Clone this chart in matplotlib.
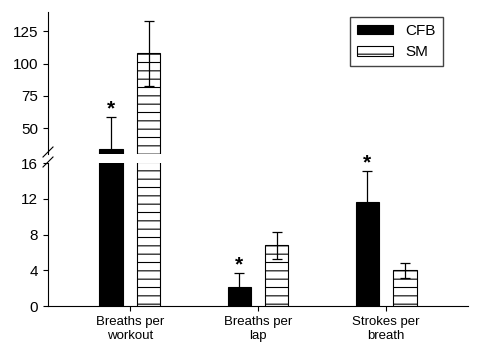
import matplotlib.pyplot as plt
import numpy as np

plt.rcParams['font.family'] = ['Liberation Sans', 'DejaVu Sans']
plt.rcParams['hatch.linewidth'] = 0.8
plt.rcParams['hatch.color'] = 'black'

categories = ['Breaths per\nworkout', 'Breaths per\nlap', 'Strokes per\nbreath']
cfb_mean = [34.0, 2.1, 11.6]
cfb_err = [24.5, 1.55, 3.45]
sm_mean = [108.0, 6.8, 4.0]
sm_err = [25.0, 1.5, 0.85]
signif = [True, True, True]

x = np.arange(len(categories))
w = 0.18
off = 0.148
W, H = 479, 353

fig = plt.figure(figsize=(W / 100, H / 100), dpi=100)
ax_top = fig.add_axes([48 / W, 1 - 154 / H, 420 / W, 142 / H])
ax_bot = fig.add_axes([48 / W, 1 - 306 / H, 420 / W, 143 / H])

for ax in (ax_top, ax_bot):
    ax.bar(x - off, cfb_mean, w, color='black', edgecolor='black', lw=0.8, label='CFB')
    ax.bar(x + off, sm_mean, w, color='white', edgecolor='black', lw=0.8,
           hatch='--', label='SM')
    ax.errorbar(x - off, cfb_mean, yerr=cfb_err, fmt='none', ecolor='black',
                elinewidth=0.9, capsize=3.5, capthick=0.9)
    ax.errorbar(x + off, sm_mean, yerr=sm_err, fmt='none', ecolor='black',
                elinewidth=0.9, capsize=3.5, capthick=0.9)
    ax.set_xlim(-0.64, 2.64)
    ax.spines['top'].set_visible(False)
    ax.spines['right'].set_visible(False)
    for s in ax.spines.values():
        s.set_linewidth(0.8)
    ax.tick_params(direction='out', length=3.5, width=0.8, labelsize=11)

ax_top.set_ylim(30, 140)
ax_top.set_yticks([50, 75, 100, 125])
ax_top.spines['bottom'].set_visible(False)
ax_top.set_xticks([])

ax_bot.set_ylim(0, 16)
ax_bot.set_yticks([0, 4, 8, 12, 16])
ax_bot.set_xticks(x)
ax_bot.set_xticklabels(categories, fontsize=9.5)

# significance marks
for i, s in enumerate(signif):
    if not s:
        continue
    top = cfb_mean[i] + cfb_err[i]
    ax = ax_top if top > 16 else ax_bot
    ax.annotate('*', (x[i] - off, top), xytext=(0, -1), textcoords='offset points',
                ha='center', va='bottom', fontsize=15, fontweight='bold')

leg = ax_top.legend(loc='upper right', bbox_to_anchor=(0.94, 0.965), fontsize=11,
                    fancybox=False, framealpha=1, edgecolor='#444444',
                    borderaxespad=0, handlelength=2.4, handleheight=0.6,
                    borderpad=0.45, labelspacing=0.5, handletextpad=0.8)
leg.get_frame().set_linewidth(1.0)

# axis break marks
for y0 in (157, 167):
    fig.add_artist(plt.Line2D([43 / W, 53 / W], [1 - y0 / H, 1 - (y0 - 10) / H],
                              transform=fig.transFigure, color='black', lw=0.8))

fig.savefig('out.png', dpi=100)
